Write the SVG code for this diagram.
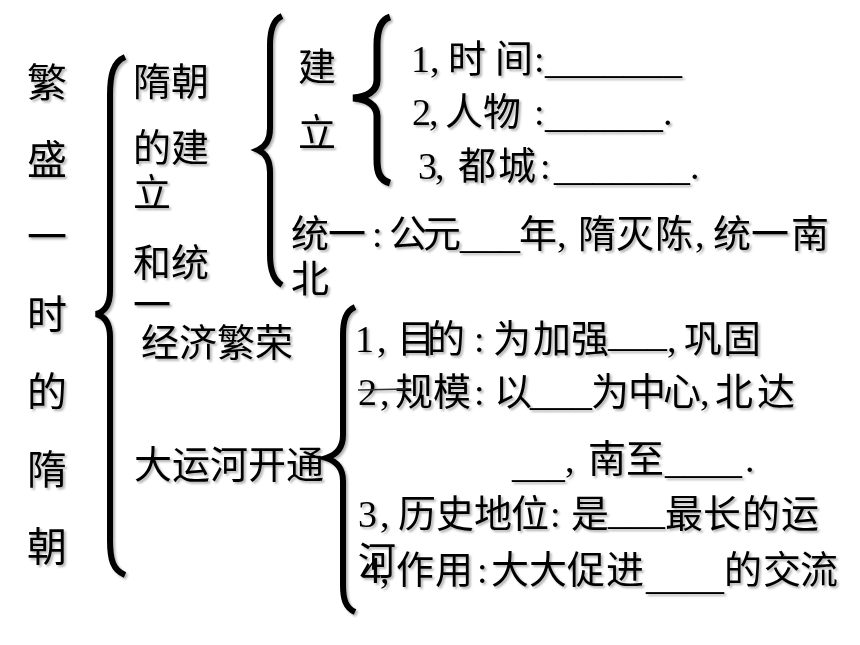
<svg xmlns="http://www.w3.org/2000/svg" width="860" height="645" viewBox="0 0 860 645">
<style>
text{font-family:"Liberation Serif","Noto Sans CJK SC",serif;fill:#000}
.t40{font-size:40px}
.t38{font-size:38px}
.b{font-family:"Liberation Serif",serif}
.brace{fill:none;stroke:#000;stroke-width:6;stroke-linejoin:miter;stroke-linecap:butt}
.sh{filter:url(#sh)}
</style>
<defs>
<filter id="sh" x="-10%" y="-10%" width="120%" height="120%">
<feDropShadow dx="2" dy="2" stdDeviation="0.8" flood-color="#000" flood-opacity="0.3"/>
</filter>
</defs>
<rect width="860" height="645" fill="#fff"/>

<g id="connectors" class="sh">
<path class="brace" d="M125,57 C113,62 110,75 110,95 L110,291 C110,305 104,312 96,314 C104,316 110,323 110,337 L110,540 C110,560 113,570 125,575"/>
<path class="brace" d="M282,16 C273,20 270,30 270,45 L270,128 C270,140 265,147 258,150 C265,153 270,160 270,172 L270,255 C270,270 273,280 282,285"/>
<path class="brace" style="stroke-width:7" d="M390,17 C380,20 377,30 377,45 L377,80 C377,91 367,97 353,98 C367,99 377,105 377,116 L377,160 C377,173 380,180 390,183"/>
<path class="brace" d="M355,307 C346,311 343,320 343,335 L343,435 C343,448 336,455 326,458 C336,461 343,468 343,481 L343,585 C343,600 346,608 355,612"/>
</g>

<g id="title" class="sh">
<text class="t40" x="27 27 27 27 27 27 27" y="97 174 251 329 406 484 561">繁盛一时的隋朝</text>
</g>

<g id="sui-founding" class="sh">
<text class="t38"><tspan x="133" y="95">隋朝</tspan><tspan x="133" y="161">的建</tspan><tspan x="133" y="206">立</tspan><tspan x="133" y="276">和统</tspan><tspan x="133" y="318">一</tspan></text>
</g>

<g id="founding" class="sh">
<text class="t38"><tspan x="298" y="80">建</tspan><tspan x="298" y="146">立</tspan></text>
</g>

<g id="founding-items" class="sh">
<text class="t38"><tspan x="411 430 448 495 534" y="72">1,时间:</tspan><tspan class="b" x="545" y="73" textLength="137" lengthAdjust="spacingAndGlyphs">_______</tspan></text>
<text class="t38"><tspan x="412 429 445 483 534" y="125">2,人物:</tspan><tspan class="b" x="545" y="127" textLength="118" lengthAdjust="spacingAndGlyphs">______</tspan><tspan x="663" y="125">.</tspan></text>
<text class="t38"><tspan x="418 435 458 498 540" y="179">3,都城:</tspan><tspan class="b" x="554" y="180" textLength="136" lengthAdjust="spacingAndGlyphs">_______</tspan><tspan x="690" y="179">.</tspan></text>
</g>

<g id="unification" class="sh">
<text class="t38"><tspan x="291 328 372 389 423" y="247">统一:公元</tspan><tspan class="b" x="460" y="248" textLength="60" lengthAdjust="spacingAndGlyphs">___</tspan><tspan x="519 557 578 616 655 695 713 751 791" y="247">年,隋灭陈,统一南</tspan><tspan x="291" y="292">北</tspan></text>
</g>

<g id="economy" class="sh">
<text class="t38" x="141" y="356">经济繁荣</text>
</g>

<g id="canal" class="sh">
<text class="t38" x="134" y="478">大运河开通</text>
</g>

<g id="canal-items" class="sh">
<text class="t38"><tspan x="355 377 397 427 474 493 533 571" y="352">1,目的:为加强</tspan><tspan class="b" x="608" y="346" textLength="59" lengthAdjust="spacingAndGlyphs">___</tspan><tspan x="667 684 723" y="352">,巩固</tspan></text>
<text class="t38"><tspan x="358 380 395 433 474 494" y="405">2,规模:以</tspan><tspan class="b" x="530" y="405" textLength="62" lengthAdjust="spacingAndGlyphs">___</tspan><tspan x="591 628 663 700 715 757" y="405">为中心,北达</tspan><tspan class="b" x="512" y="477" textLength="53" lengthAdjust="spacingAndGlyphs">___</tspan><tspan x="565 588 626" y="472">,南至</tspan><tspan class="b" x="665" y="473" textLength="77" lengthAdjust="spacingAndGlyphs">____</tspan><tspan x="745" y="472">.</tspan></text>
<line x1="358" y1="390" x2="406" y2="389" stroke="#333" stroke-width="1.5"/>
<text class="t38"><tspan x="358 380 398 436 474 511 550 571" y="527">3,历史地位:是</tspan><tspan class="b" x="608" y="524" textLength="57" lengthAdjust="spacingAndGlyphs">___</tspan><tspan x="665 703 742 781" y="527">最长的运</tspan><tspan x="358" y="574">河</tspan></text>
<text class="t38"><tspan x="362 380 396 435 477 491 529 567 606" y="583">4,作用:大大促进</tspan><tspan class="b" x="646" y="589" textLength="78" lengthAdjust="spacingAndGlyphs">____</tspan><tspan x="724 763 800" y="583">的交流</tspan></text>
</g>
</svg>
